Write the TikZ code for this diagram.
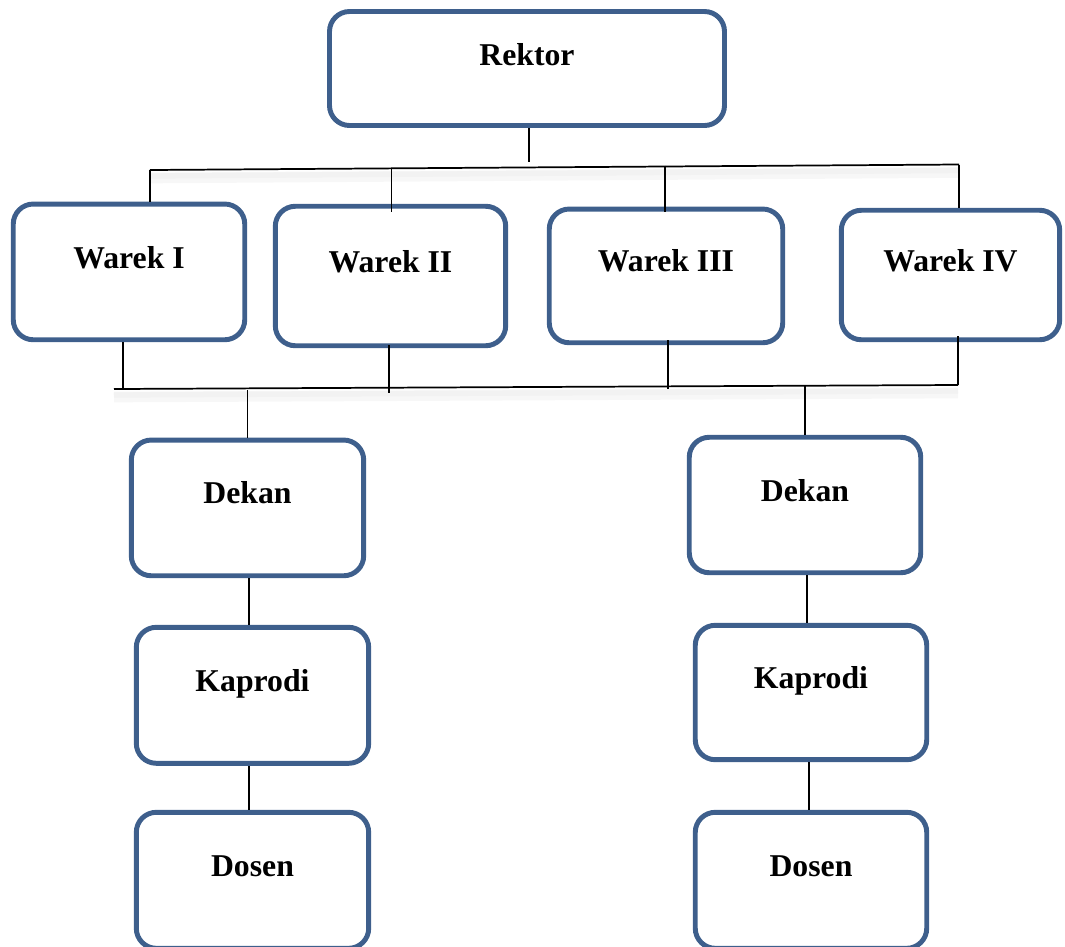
\documentclass[tikz,border=0pt]{standalone}
\usepackage{fontspec}
\setmainfont{Liberation Serif}
\definecolor{boxblue}{RGB}{62,95,140}
\tikzset{
  box/.style={draw=boxblue, line width=3.7pt, rounded corners=15pt, inner sep=0pt},
  lbl/.style={anchor=base, font=\fontsize{23.8}{28}\selectfont\bfseries, inner sep=0pt},
  conn/.style={draw=black, line width=1.3pt},
  busshadowa/.style={draw=black!3, line width=8pt},
  busshadowb/.style={draw=black!5, line width=4pt}
}
\begin{document}
\begin{tikzpicture}[x=0.75pt,y=-0.75pt]
\useasboundingbox (0,0) rectangle (1065,947);
% boxes
\node[box, minimum width=296.25pt, minimum height=85.5pt] (rektor) at (527,68.5) {};
\node[box, minimum width=173.6pt, minimum height=101.8pt] (w1) at (129,271.9) {};
\node[box, minimum width=172.8pt, minimum height=104.6pt] (w2) at (390.5,276) {};
\node[box, minimum width=175.1pt, minimum height=100.3pt] (w3) at (666,275.9) {};
\node[box, minimum width=163.8pt, minimum height=97.1pt] (w4) at (950.5,275) {};
\node[box, minimum width=174.3pt, minimum height=101.8pt] (dl) at (247.5,507.9) {};
\node[box, minimum width=173.6pt, minimum height=101.6pt] (dr) at (805,505) {};
\node[box, minimum width=174.3pt, minimum height=102pt] (kl) at (252.5,695.3) {};
\node[box, minimum width=173.6pt, minimum height=100.8pt] (kr) at (811,692.5) {};
\node[box, minimum width=174.3pt, minimum height=102pt] (sl) at (252.5,880.3) {};
\node[box, minimum width=173.6pt, minimum height=102pt] (sr) at (811,880.3) {};
% labels
\node[lbl] (trektor) at (527,65) {Rektor};
\node[lbl] (tw1) at (129,268) {Warek I};
\node[lbl] (tw2) at (390.5,272.3) {Warek II};
\node[lbl] (tw3) at (666,271.7) {Warek III};
\node[lbl] (tw4) at (950.5,271) {Warek IV};
\node[lbl] (tdl) at (247.5,503) {Dekan};
\node[lbl] (tdr) at (805,501.7) {Dekan};
\node[lbl] (tkl) at (252.5,691) {Kaprodi};
\node[lbl] (tkr) at (811,688) {Kaprodi};
\node[lbl] (tsl) at (252.5,876) {Dosen};
\node[lbl] (tsr) at (811,876) {Dosen};
% coordinates of the upper bus
\coordinate (rk) at (529,161.5);
\coordinate (ta) at (150,170);
\coordinate (tb) at (959,164.5);
\coordinate (t2a) at (391.6,167.7);
\coordinate (t2b) at (391.6,212);
\coordinate (t3a) at (665,165.5);
\coordinate (t3b) at (665,212);
% coordinates of the lower bus
\coordinate (ba) at (114,389);
\coordinate (bb) at (958,385);
\coordinate (b1a) at (123,342);
\coordinate (b1b) at (123,390);
\coordinate (b2a) at (389,345);
\coordinate (b2b) at (389,393);
\coordinate (b3a) at (668,340);
\coordinate (b3b) at (668,389);
\coordinate (b4a) at (958,336);
\coordinate (dla) at (247.5,390);
\coordinate (dra) at (805,386);
\coordinate (xl) at (249,0);
\coordinate (xr) at (807,0);
\coordinate (xr2) at (809,0);
% shadows
\draw[busshadowa] ([yshift=-6pt]ta) -- ([yshift=-6pt]tb);
\draw[busshadowb] ([yshift=-4.5pt]ta) -- ([yshift=-4.5pt]tb);
\draw[busshadowa] ([yshift=-6pt]ba) -- ([yshift=-6pt]bb);
\draw[busshadowb] ([yshift=-4.5pt]ba) -- ([yshift=-4.5pt]bb);
% upper connectors
\draw[conn] (rektor.south -| rk) -- (rk);
\draw[conn] (ta) -- (tb);
\draw[conn] (ta) -- (ta |- w1.north);
\draw[conn] (t2a) -- (t2b);
\draw[conn] (t3a) -- (t3b);
\draw[conn] (tb) -- (tb |- w4.north);
% lower connectors
\draw[conn] (ba) -- (bb);
\draw[conn] (b1a) -- (b1b);
\draw[conn] (b2a) -- (b2b);
\draw[conn] (b3a) -- (b3b);
\draw[conn] (b4a) -- (bb);
\draw[conn] (dla) -- (dl.north -| dla);
\draw[conn] (dra) -- (dr.north -| dra);
% columns
\draw[conn] (dl.south -| xl) -- (kl.north -| xl);
\draw[conn] (kl.south -| xl) -- (sl.north -| xl);
\draw[conn] (dr.south -| xr) -- (kr.north -| xr);
\draw[conn] (kr.south -| xr2) -- (sr.north -| xr2);
\end{tikzpicture}
\end{document}
